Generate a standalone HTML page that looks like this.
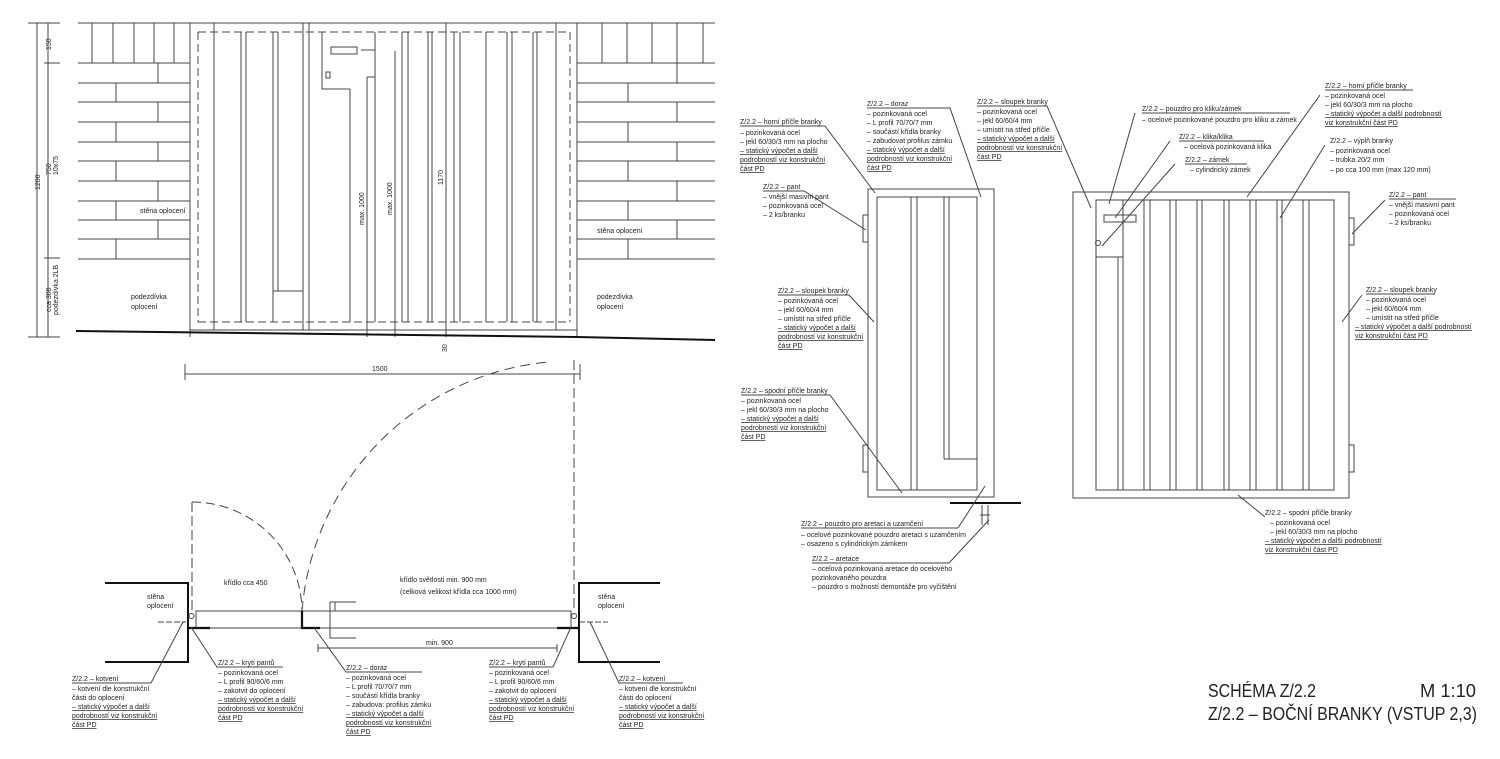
<!DOCTYPE html>
<html><head><meta charset="utf-8"><style>
body{margin:0;background:#fff}
svg{display:block}
.t{font-family:"Liberation Sans",sans-serif;font-size:7px;fill:#222}
.u{text-decoration:underline}
.ttl{font-family:"Liberation Sans",sans-serif;font-size:18px;fill:#222}
</style></head><body>
<svg width="1500" height="759" viewBox="0 0 1500 759" xmlns="http://www.w3.org/2000/svg">
<rect width="1500" height="759" fill="#fff"/>
<g stroke="#444" stroke-width="1" fill="none">
<!-- TOP ELEVATION -->
<line x1="78" y1="23" x2="715" y2="23"/>
<!-- left wall -->
<line x1="78" y1="63" x2="190" y2="63"/>
<line x1="92" y1="23" x2="92" y2="63"/><line x1="113" y1="23" x2="113" y2="63"/><line x1="134" y1="23" x2="134" y2="63"/><line x1="154" y1="23" x2="154" y2="63"/><line x1="174" y1="23" x2="174" y2="63"/>
<path d="M78 83H190M78 102H190M78 122H190M78 142H190M78 161H190M78 181H190M78 201H190M78 220H190M78 239H190M78 259H190"/>
<path d="M158 63V83M116 83V102M158 102V122M116 122V142M158 142V161M116 161V181M158 181V201M116 201V220M158 220V239M116 239V259"/>
<!-- right wall -->
<line x1="577" y1="63" x2="715" y2="63"/>
<line x1="602" y1="23" x2="602" y2="63"/><line x1="627" y1="23" x2="627" y2="63"/><line x1="652" y1="23" x2="652" y2="63"/><line x1="677" y1="23" x2="677" y2="63"/><line x1="703" y1="23" x2="703" y2="63"/>
<path d="M577 83H715M577 102H715M577 122H715M577 142H715M577 161H715M577 181H715M577 201H715M577 220H715M577 239H715M577 259H715"/>
<path d="M677 63V83M628 83V102M677 102V122M628 122V142M677 142V161M628 161V181M677 181V201M628 201V220M677 220V239M628 239V259"/>
<!-- gate -->
<line x1="190" y1="23" x2="190" y2="337"/><line x1="577" y1="23" x2="577" y2="337"/>
<line x1="190" y1="330" x2="577" y2="330"/>
<path d="M198 32H570M198 322H570M198 32V322M570 32V322" stroke-dasharray="8,4"/>
<path d="M214 23V330M241 32V322M246 32V322M273 32V322M278 32V291M303 23V330M309 23V330M350 89V322M375 32V322M402 32V322M408 32V322M428 32V322M432 32V322M454 32V322M460 32V322M486 32V322M507 32V322M512 32V322M533 32V322M537 32V322M556 23V330"/>
<path d="M273 291H303M322 32V89H350"/>
<rect x="331" y="47" width="26" height="7"/>
<path d="M326 72h4v6h-4z"/>
<path d="M361 50h14M367 77h8M367 77V337M395 51V337M446 23V337"/>
<path d="M76 331L577 337L715 340" stroke="#111" stroke-width="2"/>
<!-- left dims -->
<path d="M28 23H60M28 337H60M37 23V337M48 23V337M44 63H60M44 258H60"/>
<!-- PLAN -->
<path d="M105 583H188V662H105M660 583H579V662H660" stroke="#111" stroke-width="2"/>
<rect x="196" y="611" width="375" height="17"/>
<path d="M188 628H210M302 611V628H320M557 628H579" stroke="#111" stroke-width="2.2"/>
<circle cx="191.5" cy="616" r="2.5"/><circle cx="574" cy="616" r="2.5"/>
<path d="M330 602H356M330 602V638H356M335 611V602" />
<path d="M192 502V611M574 360V611" stroke-dasharray="10,4"/>
<path d="M192 502A110 110 0 0 1 302 611" stroke-dasharray="9,5"/>
<path d="M302 611A272 272 0 0 1 549 362" stroke-dasharray="10,6"/>
<path d="M185 374H580M185 364V380M580 364V380M318 648H557M318 644V652M557 644V652"/>
<path d="M158 622H186M579 622H608" stroke-dasharray="6,2"/>
<!-- plan leaders -->
<path d="M183 622L151 683H72M191 627L217 667H283M315 629L346 672H422M571 627L553 667H489M590 622L619 683H683"/>
<!-- RIGHT: left gate -->
<rect x="868" y="189" width="126" height="308"/>
<rect x="877" y="197" width="100" height="293"/>
<path d="M911 197V490M917 197V490M944 197V459M949 197V459M944 459H977"/>
<rect x="863" y="215" width="5" height="27"/><rect x="863" y="445" width="5" height="27"/>
<path d="M950 503H1021" stroke="#111" stroke-width="2"/>
<path d="M982 505V525M988 505V525M980 515H990"/>
<!-- right gate -->
<rect x="1073" y="192" width="276" height="306"/>
<rect x="1096" y="200" width="238" height="290"/>
<path d="M1118 257V490M1123 200V490M1144 200V490M1150 200V490M1170 200V490M1176 200V490M1197 200V490M1202 200V490M1224 200V490M1229 200V490M1250 200V490M1256 200V490M1277 200V490M1282 200V490M1303 200V490M1309 200V490M1096 257H1123"/>
<rect x="1104" y="215" width="32" height="7"/>
<circle cx="1098" cy="243" r="2.5"/>
<rect x="1349" y="218" width="5" height="27"/><rect x="1349" y="445" width="5" height="27"/>
<!-- right leaders -->
<path d="M740 126H825L875 193M763 191H804L866 230M778 295H849L874 322M741 395H830L902 493M867 108H950L981 197M977 106H1047L1091 208M1142 113H1290M1135 113L1109 204M1179 141H1264M1170 141L1115 218M1185 164H1247M1175 164L1102 246M1325 90H1413M1320 95L1247 197M1325 145L1280 218M1389 199H1456M1385 200L1352 234M1366 294H1435M1362 295L1342 322M1265 517L1238 495M801 528H958M958 528L985 486M812 563H949M949 563L989 520"/>
</g>
<!-- TEXT top elevation -->
<text class="t" x="140" y="213">stěna oplocení</text>
<text class="t" x="597" y="233">stěna oplocení</text>
<text class="t" x="131" y="299">podezdívka</text><text class="t" x="131" y="309">oplocení</text>
<text class="t" x="597" y="299">podezdívka</text><text class="t" x="597" y="309">oplocení</text>
<text class="t" transform="translate(40,190) rotate(-90)">1200</text>
<text class="t" transform="translate(51,50) rotate(-90)">150</text>
<text class="t" transform="translate(51,175) rotate(-90)">750</text>
<text class="t" transform="translate(58,175) rotate(-90)">10x75</text>
<text class="t" transform="translate(51,312) rotate(-90)">cca 300</text>
<text class="t" transform="translate(58,315) rotate(-90)">podezdívka 2LB</text>
<text class="t" transform="translate(364,225) rotate(-90)">max. 1000</text>
<text class="t" transform="translate(392,215) rotate(-90)">max. 1000</text>
<text class="t" transform="translate(443,185) rotate(-90)">1170</text>
<text class="t" transform="translate(447,352) rotate(-90)">30</text>
<!-- plan text -->
<text class="t" x="372" y="371">1500</text>
<text class="t" x="426" y="645">min. 900</text>
<text class="t" x="224" y="585">křídlo cca 450</text>
<text class="t" x="400" y="582">křídlo světlosti min. 900 mm</text>
<text class="t" x="400" y="594">(celková velikost křídla cca 1000 mm)</text>
<text class="t" x="147" y="599">stěna</text><text class="t" x="147" y="608">oplocení</text>
<text class="t" x="598" y="599">stěna</text><text class="t" x="598" y="608">oplocení</text>
<text class="t" x="72" y="681">Z/2.2 – kotvení</text>
<text class="t" x="72" y="691">– kotvení dle konstrukční</text>
<text class="t" x="72" y="700">části do oplocení</text>
<text class="t u" x="72" y="709">– statický výpočet a další</text>
<text class="t u" x="72" y="718">podrobností viz konstrukční</text>
<text class="t u" x="72" y="727">část PD</text>
<text class="t" x="218" y="665">Z/2.2 – krytí pantů</text>
<text class="t" x="218" y="675">– pozinkovaná ocel</text>
<text class="t" x="218" y="684">– L profil 90/60/6 mm</text>
<text class="t" x="218" y="693">– zakotvit do oplocení</text>
<text class="t u" x="218" y="702">– statický výpočet a další</text>
<text class="t u" x="218" y="711">podrobností viz konstrukční</text>
<text class="t u" x="218" y="720">část PD</text>
<text class="t" x="346" y="670">Z/2.2 – doraz</text>
<text class="t" x="346" y="680">– pozinkovaná ocel</text>
<text class="t" x="346" y="689">– L profil 70/70/7 mm</text>
<text class="t" x="346" y="698">– součástí křídla branky</text>
<text class="t" x="346" y="707">– zabudova: profilus zámku</text>
<text class="t u" x="346" y="716">– statický výpočet a další</text>
<text class="t u" x="346" y="725">podrobností viz konstrukční</text>
<text class="t u" x="346" y="734">část PD</text>
<text class="t" x="489" y="665">Z/2.2 – krytí pantů</text>
<text class="t" x="489" y="675">– pozinkovaná ocel</text>
<text class="t" x="489" y="684">– L profil 90/60/6 mm</text>
<text class="t" x="489" y="693">– zakotvit do oplocení</text>
<text class="t u" x="489" y="702">– statický výpočet a další</text>
<text class="t u" x="489" y="711">podrobností viz konstrukční</text>
<text class="t u" x="489" y="720">část PD</text>
<text class="t" x="619" y="681">Z/2.2 – kotvení</text>
<text class="t" x="619" y="691">– kotvení dle konstrukční</text>
<text class="t" x="619" y="700">části do oplocení</text>
<text class="t u" x="619" y="709">– statický výpočet a další</text>
<text class="t u" x="619" y="718">podrobností viz konstrukční</text>
<text class="t u" x="619" y="727">část PD</text>
<!-- right labels -->
<text class="t" x="740" y="124">Z/2.2 – horní příčle branky</text>
<text class="t" x="740" y="135">– pozinkovaná ocel</text>
<text class="t" x="740" y="144">– jekl 60/30/3 mm na plocho</text>
<text class="t u" x="740" y="153">– statický výpočet a další</text>
<text class="t u" x="740" y="162">podrobností viz konstrukční</text>
<text class="t u" x="740" y="171">část PD</text>
<text class="t" x="763" y="189">Z/2.2 – pant</text>
<text class="t" x="763" y="199">– vnější masivní pant</text>
<text class="t" x="763" y="208">– pozinkovaná ocel</text>
<text class="t" x="763" y="217">– 2 ks/branku</text>
<text class="t" x="778" y="293">Z/2.2 – sloupek branky</text>
<text class="t" x="778" y="303">– pozinkovaná ocel</text>
<text class="t" x="778" y="312">– jekl 60/60/4 mm</text>
<text class="t" x="778" y="321">– umístit na střed příčle</text>
<text class="t u" x="778" y="330">– statický výpočet a další</text>
<text class="t u" x="778" y="339">podrobností viz konstrukční</text>
<text class="t u" x="778" y="348">část PD</text>
<text class="t" x="741" y="393">Z/2.2 – spodní příčle branky</text>
<text class="t" x="741" y="403">– pozinkovaná ocel</text>
<text class="t" x="741" y="412">– jekl 60/30/3 mm na plocho</text>
<text class="t u" x="741" y="421">– statický výpočet a další</text>
<text class="t u" x="741" y="430">podrobností viz konstrukční</text>
<text class="t u" x="741" y="439">část PD</text>
<text class="t" x="867" y="106">Z/2.2 – doraz</text>
<text class="t" x="867" y="116">– pozinkovaná ocel</text>
<text class="t" x="867" y="125">– L profil 70/70/7 mm</text>
<text class="t" x="867" y="134">– součástí křídla branky</text>
<text class="t" x="867" y="143">– zabudovat profilus zámku</text>
<text class="t u" x="867" y="152">– statický výpočet a další</text>
<text class="t u" x="867" y="161">podrobností viz konstrukční</text>
<text class="t u" x="867" y="170">část PD</text>
<text class="t" x="977" y="104">Z/2.2 – sloupek branky</text>
<text class="t" x="977" y="114">– pozinkovaná ocel</text>
<text class="t" x="977" y="123">– jekl 60/60/4 mm</text>
<text class="t" x="977" y="132">– umístit na střed příčle</text>
<text class="t u" x="977" y="141">– statický výpočet a další</text>
<text class="t u" x="977" y="150">podrobností viz konstrukční</text>
<text class="t u" x="977" y="159">část PD</text>
<text class="t" x="1142" y="111">Z/2.2 – pouzdro pro kliku/zámek</text>
<text class="t" x="1142" y="122">– ocelové pozinkované pouzdro pro kliku a zámek</text>
<text class="t" x="1179" y="139">Z/2.2 – klika/klika</text>
<text class="t" x="1184" y="149">– ocelová pozinkovaná klika</text>
<text class="t" x="1185" y="162">Z/2.2 – zámek</text>
<text class="t" x="1190" y="172">– cylindrický zámek</text>
<text class="t" x="1325" y="88">Z/2.2 – horní příčle branky</text>
<text class="t" x="1325" y="98">– pozinkovaná ocel</text>
<text class="t" x="1325" y="107">– jekl 60/30/3 mm na plocho</text>
<text class="t u" x="1325" y="116">– statický výpočet a další podrobností</text>
<text class="t u" x="1325" y="125">viz konstrukční část PD</text>
<text class="t" x="1330" y="143">Z/2.2 – výplň branky</text>
<text class="t" x="1330" y="153">– pozinkovaná ocel</text>
<text class="t" x="1330" y="162">– trubka 20/2 mm</text>
<text class="t" x="1330" y="172">– po cca 100 mm (max 120 mm)</text>
<text class="t" x="1389" y="197">Z/2.2 – pant</text>
<text class="t" x="1389" y="207">– vnější masivní pant</text>
<text class="t" x="1389" y="216">– pozinkovaná ocel</text>
<text class="t" x="1389" y="225">– 2 ks/branku</text>
<text class="t" x="1366" y="292">Z/2.2 – sloupek branky</text>
<text class="t" x="1366" y="302">– pozinkovaná ocel</text>
<text class="t" x="1366" y="311">– jekl 60/60/4 mm</text>
<text class="t" x="1366" y="320">– umístit na střed příčle</text>
<text class="t u" x="1355" y="329">– statický výpočet a další podrobností</text>
<text class="t u" x="1355" y="338">viz konstrukční část PD</text>
<text class="t" x="1265" y="515">Z/2.2 – spodní příčle branky</text>
<text class="t" x="1270" y="525">– pozinkovaná ocel</text>
<text class="t" x="1270" y="534">– jekl 60/30/3 mm na plocho</text>
<text class="t u" x="1265" y="543">– statický výpočet a další podrobností</text>
<text class="t u" x="1265" y="552">viz konstrukční část PD</text>
<text class="t" x="801" y="526">Z/2.2 – pouzdro pro aretaci a uzamčení</text>
<text class="t" x="801" y="537">– ocelové pozinkované pouzdro aretaci s uzamčením</text>
<text class="t" x="801" y="546">– osazeno s cylindrickým zámkem</text>
<text class="t" x="812" y="561">Z/2.2 – aretace</text>
<text class="t" x="812" y="571">– ocelová pozinkovaná aretace do ocelového</text>
<text class="t" x="812" y="580">pozinkovaného pouzdra</text>
<text class="t" x="812" y="589">– pouzdro s možností demontáže pro vyčištění</text>
<!-- title -->
<text class="ttl" x="1208" y="697" textLength="108" lengthAdjust="spacingAndGlyphs">SCHÉMA Z/2.2</text>
<text class="ttl" x="1420" y="697" textLength="56" lengthAdjust="spacingAndGlyphs">M 1:10</text>
<text class="ttl" x="1208" y="720" textLength="269" lengthAdjust="spacingAndGlyphs">Z/2.2 – BOČNÍ BRANKY (VSTUP 2,3)</text>
</svg>
</body></html>
